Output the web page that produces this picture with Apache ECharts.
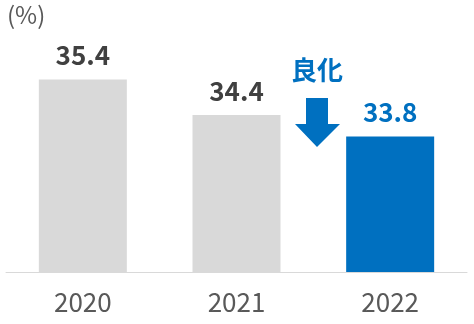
<!DOCTYPE html>
<html><head><meta charset="utf-8">
<script src="https://cdn.jsdelivr.net/npm/echarts@6/dist/echarts.min.js"></script>
<style>html,body{margin:0;padding:0;background:#fff}#c{width:474px;height:324px}</style>
</head><body><div id="c"></div>
<script>
const categories = ['2020', '2021', '2022'];
const values = [35.4, 34.4, 33.8];
const barColors = ['#D9D9D9', '#D9D9D9', '#0070C0'];
const labelColors = ['#404040', '#404040', '#0070C0'];
const unitLabel = '(%)';
const noteText = '良化';

const font = '"Noto Sans CJK JP", "Noto Sans", sans-serif';
const chart = echarts.init(document.getElementById('c'), null, {renderer: 'canvas'});
chart.setOption({
  animation: false,
  grid: {left: 6, right: 7, top: 58, bottom: 52},
  xAxis: {
    type: 'category', data: categories,
    axisLine: {lineStyle: {color: '#D9D9D9', width: 1}},
    axisTick: {show: false},
    axisLabel: {color: '#595959', fontSize: 26, fontFamily: font, margin: 17}
  },
  yAxis: {type: 'value', min: 30, max: 36, show: false, splitLine: {show: false}},
  series: [{
    type: 'bar', barWidth: 88,
    data: values.map((v, i) => ({
      value: v,
      itemStyle: {color: barColors[i]},
      label: {color: labelColors[i]}
    })),
    label: {show: true, position: 'top', distance: 11, fontSize: 26, fontWeight: 'bold', fontFamily: font,
      formatter: p => p.value.toFixed(1)}
  }],
  graphic: [
    {type: 'text', left: 7, top: 3, style: {text: unitLabel, fontSize: 24, fill: '#595959', fontFamily: font}},
    {type: 'text', left: 291, top: 57, style: {text: noteText, fontSize: 26, fontWeight: 'bold', fill: '#0070C0', fontFamily: font}},
    {type: 'polygon', shape: {points: [[306, 98], [328, 98], [328, 124], [340, 124], [317, 147], [295, 124], [306, 124]]}, style: {fill: '#0070C0'}}
  ]
});
</script></body></html>
